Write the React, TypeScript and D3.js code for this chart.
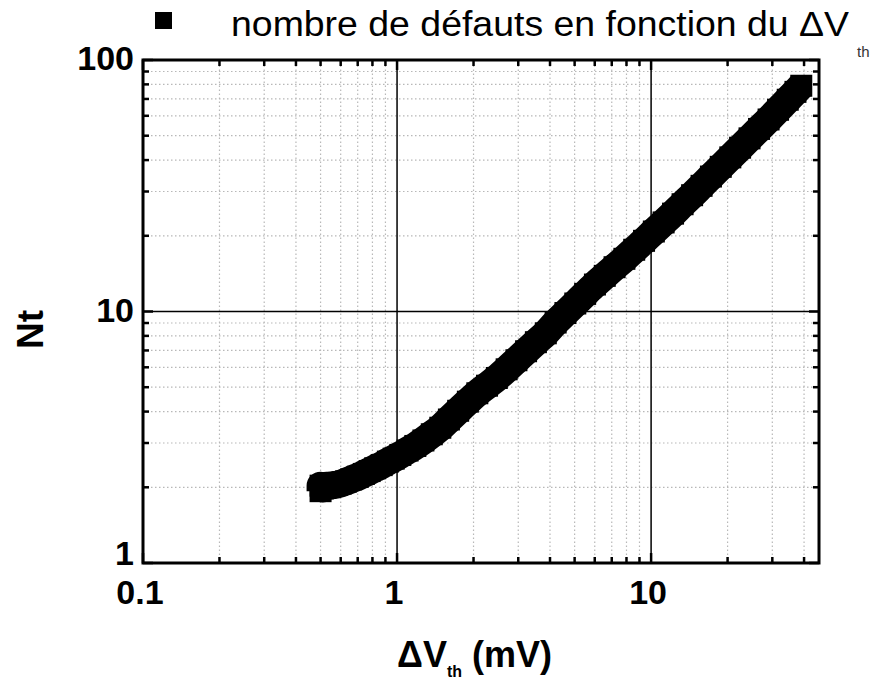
import React from "react";
import * as d3 from "d3";

const W = 891;
const H = 681;

// Axis ranges (log scales)
const xDomain: [number, number] = [0.1, 45.8];
const yDomain: [number, number] = [1, 100];
const xMajorTicks = [0.1, 1, 10];
const xTickLabels = ["0.1", "1", "10"];
const yMajorTicks = [1, 10, 100];
const yTickLabels = ["1", "10", "100"];

// Data: defect count Nt vs ΔVth (mV)
const dVth = [
  0.5, 0.5, 0.51, 0.52, 0.54, 0.56, 0.58, 0.6, 0.63, 0.66, 0.7, 0.74, 0.78, 0.82,
  0.87, 0.92, 0.97, 1.03, 1.1, 1.18, 1.27, 1.37, 1.48, 1.6, 1.74, 1.9, 2.07, 2.26,
  2.47, 2.7, 2.95, 3.22, 3.52, 3.85, 4.21, 4.6, 5.03, 5.5, 6.01, 6.57, 7.18, 7.85,
  8.58, 9.38, 10.25, 11.2, 12.2, 13.3, 14.5, 15.8, 17.2, 18.8, 20.5, 22.4, 24.4,
  26.6, 29.0, 31.6, 34.5, 37.0, 39.0,
];
const Nt = [
  1.93, 2.03, 1.98, 2.02, 2.03, 2.04, 2.05, 2.07, 2.11, 2.15, 2.2, 2.26, 2.32, 2.38,
  2.45, 2.53, 2.6, 2.69, 2.8, 2.92, 3.07, 3.25, 3.45, 3.72, 4.03, 4.38, 4.73, 5.07,
  5.44, 5.89, 6.4, 6.95, 7.55, 8.19, 9.04, 9.86, 10.76, 11.75, 12.8, 13.86, 15.0,
  16.2, 17.6, 19.1, 20.8, 22.6, 24.5, 26.7, 29.0, 31.6, 34.4, 37.6, 41.0, 44.8,
  48.8, 53.2, 58.0, 63.4, 69.5, 74.7, 79.0,
];

const legendLabel = "nombre de défauts en fonction du ΔV";
const legendSub = "th";
const yTitle = "Nt";

const margin = { left: 143, right: W - 819, top: 60, bottom: H - 563 };

export default function App() {
  const x = d3.scaleLog().domain(xDomain).range([margin.left, W - margin.right]);
  const y = d3.scaleLog().domain(yDomain).range([H - margin.bottom, margin.top]);
  const [x0, x1] = x.range();
  const [y0, y1] = y.range();

  const xAll = x.ticks().filter((t) => t >= xDomain[0] && t <= xDomain[1]);
  const yAll = y.ticks().filter((t) => t >= yDomain[0] && t <= yDomain[1]);
  const isMajor = (t: number) => Math.abs(Math.log10(t) - Math.round(Math.log10(t))) < 1e-9;
  const xMinor = xAll.filter((t) => !isMajor(t));
  const yMinor = yAll.filter((t) => !isMajor(t));

  const pts = dVth.map((v, i) => [v, Nt[i]] as [number, number]);
  const line = d3
    .line<[number, number]>()
    .x((d) => x(d[0]))
    .y((d) => y(d[1]))
    .curve(d3.curveMonotoneX);

  const ms = 22;
  const font = "'Liberation Sans', Arial, sans-serif";

  return (
    <svg
      width={W}
      height={H}
      style={{ position: "absolute", left: 0, top: 0, background: "#fff" }}
      fontFamily={font}
    >
      <rect x={0} y={0} width={W} height={H} fill="#fff" />
      {/* minor grid */}
      <g stroke="#b8b8b8" strokeWidth={1.2} strokeDasharray="1.5,2.5">
        {xMinor.map((t) => (
          <line key={"gx" + t} x1={x(t)} x2={x(t)} y1={y0} y2={y1} />
        ))}
        {yMinor.map((t) => (
          <line key={"gy" + t} x1={x0} x2={x1} y1={y(t)} y2={y(t)} />
        ))}
      </g>
      {/* major grid */}
      <g stroke="#000" strokeWidth={1.5}>
        {xMajorTicks
          .filter((t) => t > xDomain[0])
          .map((t) => (
            <line key={"mx" + t} x1={x(t)} x2={x(t)} y1={y0} y2={y1} />
          ))}
        {yMajorTicks
          .filter((t) => t > yDomain[0] && t < yDomain[1])
          .map((t) => (
            <line key={"my" + t} x1={x0} x2={x1} y1={y(t)} y2={y(t)} />
          ))}
      </g>
      {/* data */}
      <path d={line(pts) || ""} fill="none" stroke="#000" strokeWidth={28} strokeLinejoin="round" />
      <g fill="#000">
        {pts.map((d, i) => (
          <rect key={i} x={x(d[0]) - ms / 2} y={y(d[1]) - ms / 2} width={ms} height={ms} />
        ))}
      </g>
      {/* ticks */}
      <g stroke="#000" strokeWidth={2.5}>
        {xAll.map((t) => {
          const len = isMajor(t) ? 10 : 6;
          return (
            <g key={"tx" + t}>
              <line x1={x(t)} x2={x(t)} y1={y0} y2={y0 - len} />
              <line x1={x(t)} x2={x(t)} y1={y1} y2={y1 + len} />
            </g>
          );
        })}
        {yAll.map((t) => {
          const len = isMajor(t) ? 10 : 6;
          return (
            <g key={"ty" + t}>
              <line x1={x0} x2={x0 + len} y1={y(t)} y2={y(t)} />
              <line x1={x1} x2={x1 - len} y1={y(t)} y2={y(t)} />
            </g>
          );
        })}
      </g>
      {/* frame */}
      <rect x={x0} y={y1} width={x1 - x0} height={y0 - y1} fill="none" stroke="#000" strokeWidth={3} />
      {/* tick labels */}
      <g fontWeight="bold" fontSize={34} fill="#000">
        {xMajorTicks.map((t, i) => (
          <text key={"lx" + t} x={x(t) - 3} y={604} textAnchor="middle">
            {xTickLabels[i]}
          </text>
        ))}
        {yMajorTicks.map((t, i) => (
          <text key={"ly" + t} x={134} y={Math.min(y(t) + 10, y0 + 2)} textAnchor="end">
            {yTickLabels[i]}
          </text>
        ))}
      </g>
      {/* axis titles */}
      <text
        transform={`translate(43, ${(y0 + y1) / 2 + 18}) rotate(-90)`}
        textAnchor="middle"
        fontWeight="bold"
        fontSize={37}
      >
        {yTitle}
      </text>
      <text x={397} y={667} fontWeight="bold" fontSize={36}>
        ΔV
        <tspan fontSize={16} dy={10}>
          th
        </tspan>
        <tspan dy={-10}> (mV)</tspan>
      </text>
      {/* legend */}
      <rect x={155} y={12} width={17} height={17} fill="#000" />
      <text x={231} y={36} fontSize={35} textLength={618} lengthAdjust="spacingAndGlyphs">
        {legendLabel}
      </text>
      <text x={857} y={57} fontSize={15} fill="#333">
        {legendSub}
      </text>
    </svg>
  );
}
